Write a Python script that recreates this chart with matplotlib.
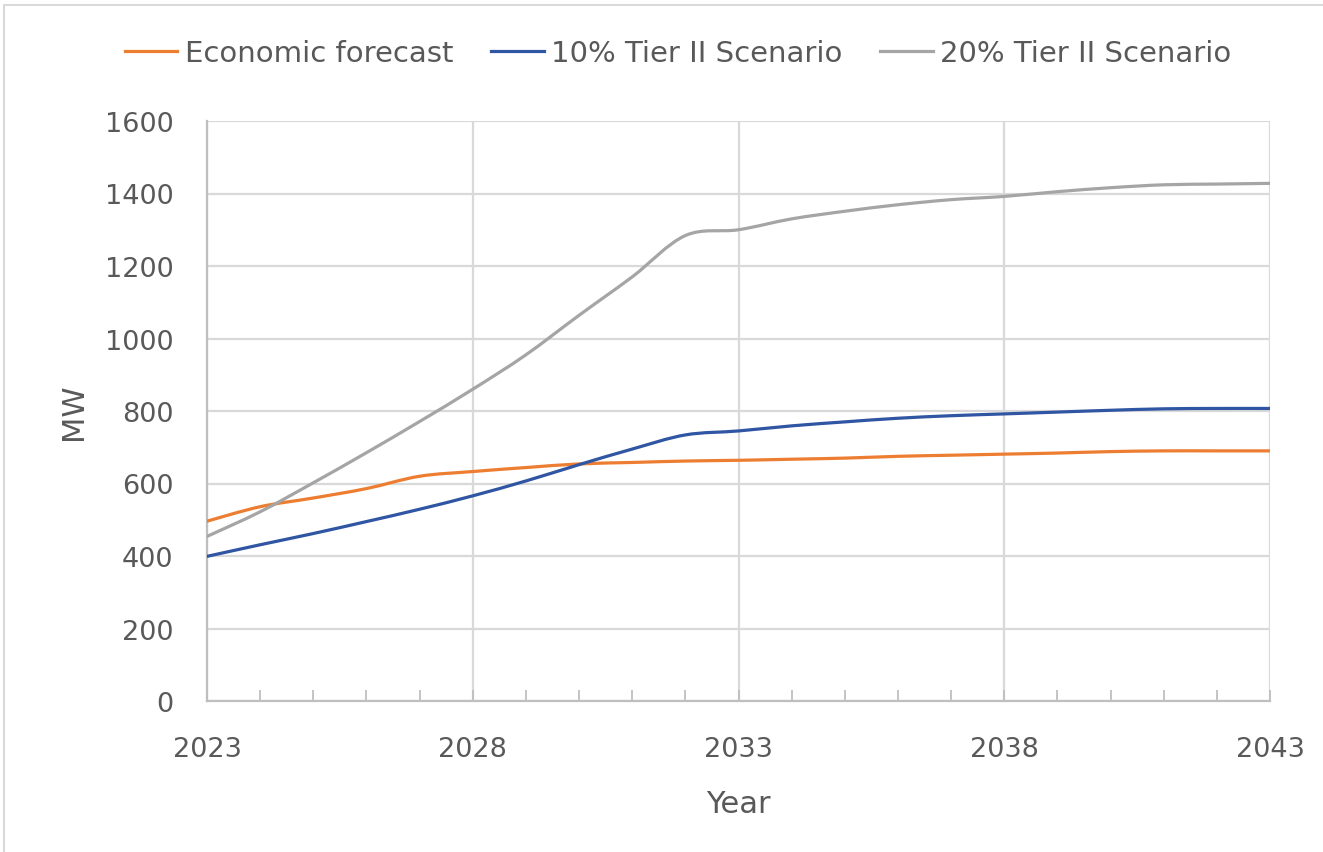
import matplotlib
matplotlib.use("Agg")
import matplotlib.pyplot as plt
from matplotlib.path import Path
from matplotlib.patches import PathPatch, Rectangle
from matplotlib.lines import Line2D
import numpy as np

years = list(range(2023, 2044))
economic = [496, 536, 560, 586, 620, 633, 644, 654, 658, 662, 664,
            667, 670, 675, 678, 681, 684, 688, 690, 690, 690]
tier10 = [399, 431, 462, 495, 529, 566, 607, 652, 695, 734, 745,
          759, 770, 780, 787, 792, 797, 802, 806, 807, 807]
tier20 = [454, 522, 602, 685, 771, 860, 955, 1064, 1170, 1284, 1300,
          1330, 1351, 1369, 1383, 1392, 1405, 1416, 1424, 1426, 1428]

series_names = ["Economic forecast", "10% Tier II Scenario", "20% Tier II Scenario"]
series_colors = ["#ED7D31", "#2F55A3", "#A5A5A5"]
y_ticks = [0, 200, 400, 600, 800, 1000, 1200, 1400, 1600]
x_major = [2023, 2028, 2033, 2038, 2043]

FONT = "DejaVu Sans"
TXT = "#595959"
FS = 19.5
FS_TITLE = 22
FS_LEG = 21

fig = plt.figure(figsize=(13.23, 8.53), dpi=100)
fig.patches.append(Rectangle((4 / 1323, -0.1), 1.2, 1 - 6 / 853 + 0.1,
                             transform=fig.transFigure, fill=False,
                             edgecolor="#D9D9D9", linewidth=1.5))
ax = fig.add_axes([207 / 1323, 1 - 702 / 853, (1270 - 207) / 1323, (702 - 122) / 853])


def smooth_path(xs, ys):
    xs = np.asarray(xs, float)
    ys = np.asarray(ys, float)
    n = len(xs)
    verts = [(xs[0], ys[0])]
    codes = [Path.MOVETO]
    for i in range(n - 1):
        x0, y0 = (xs[i - 1], ys[i - 1]) if i > 0 else (xs[i], ys[i])
        x1, y1 = xs[i], ys[i]
        x2, y2 = xs[i + 1], ys[i + 1]
        x3, y3 = (xs[i + 2], ys[i + 2]) if i + 2 < n else (xs[i + 1], ys[i + 1])
        c1 = (x1 + (x2 - x0) / 6, y1 + (y2 - y0) / 6)
        c2 = (x2 - (x3 - x1) / 6, y2 - (y3 - y1) / 6)
        verts += [c1, c2, (x2, y2)]
        codes += [Path.CURVE4] * 3
    return Path(verts, codes)


for vals, col in zip([economic, tier10, tier20], series_colors):
    ax.add_patch(PathPatch(smooth_path(years, vals), facecolor="none",
                           edgecolor=col, linewidth=2.3, capstyle="round",
                           joinstyle="round", zorder=3))

ax.set_xlim(2023, 2043)
ax.set_ylim(0, 1600)
ax.set_xticks(x_major)
ax.set_xticks(years, minor=True)
ax.set_yticks(y_ticks)
ax.grid(True, which="major", color="#D9D9D9", linewidth=1.6, zorder=0)
ax.set_axisbelow(True)

for s in ["top", "right"]:
    ax.spines[s].set_visible(False)
for s in ["left", "bottom"]:
    ax.spines[s].set_color("#BFBFBF")
    ax.spines[s].set_linewidth(1.6)

ax.tick_params(axis="x", which="both", direction="in", length=8, width=1.3,
               color="#BFBFBF", pad=25, labelsize=FS, labelcolor=TXT)
ax.tick_params(axis="y", which="both", length=0, pad=24, labelsize=FS, labelcolor=TXT)
for lab in ax.get_xticklabels() + ax.get_yticklabels():
    lab.set_fontfamily(FONT)

ax.set_xlabel("Year", fontsize=FS_TITLE, color=TXT, fontfamily=FONT, labelpad=20)
ax.set_ylabel("MW", fontsize=FS_TITLE, color=TXT, fontfamily=FONT, labelpad=12)

handles = [Line2D([0], [0], color=c, linewidth=2.3) for c in series_colors]
fig.legend(handles, series_names, loc="center", bbox_to_anchor=(678 / 1323, 1 - 54 / 853),
           ncol=3, frameon=False, handlelength=1.8, handletextpad=0.25,
           columnspacing=1.3, prop={"family": FONT, "size": FS_LEG}, labelcolor=TXT)

fig.savefig("out.png", dpi=100)
